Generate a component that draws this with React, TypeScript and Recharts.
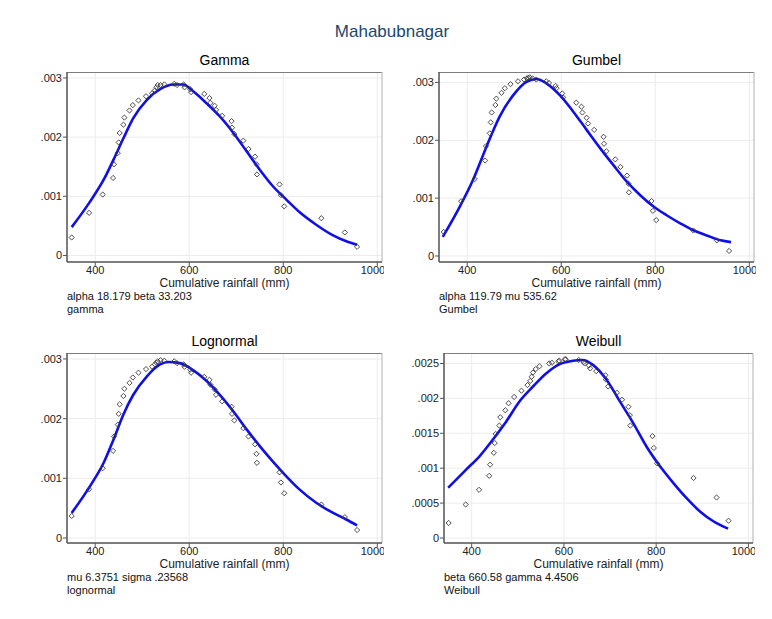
import React from "react";
import {
  ComposedChart,
  Scatter,
  Line,
  XAxis,
  YAxis,
  CartesianGrid,
  ReferenceLine,
} from "recharts";

// observed cumulative rainfall (mm), shared by all panels
const rainfall = [350, 387, 416, 438, 440, 448, 450, 452, 460, 462, 473, 480, 492, 508, 521, 527, 530, 533, 539, 547, 568, 574, 588, 590, 602, 604, 632, 643, 645, 654, 657, 670, 690, 691, 696, 715, 726, 740, 743, 744, 792, 795, 802, 881, 931, 957];

// empirical points per fit
const gammaPts = [0.000304, 0.00072, 0.00103, 0.00131, 0.00154, 0.00173, 0.00191, 0.00207, 0.00221, 0.00233, 0.00245, 0.00254, 0.00262, 0.00269, 0.00274, 0.00279, 0.00284, 0.00288, 0.00288, 0.00289, 0.0029, 0.00288, 0.00289, 0.00284, 0.00281, 0.00276, 0.00273, 0.00266, 0.00258, 0.00253, 0.00246, 0.00236, 0.00227, 0.00216, 0.00205, 0.00194, 0.0018, 0.00167, 0.00154, 0.00137, 0.0012, 0.00102, 0.00083, 0.00063, 0.00039, 0.000146];
const gumbelPts = [0.000415, 0.000946, 0.00133, 0.00165, 0.0019, 0.00212, 0.00231, 0.00248, 0.00261, 0.00272, 0.00282, 0.0029, 0.00297, 0.00302, 0.00305, 0.00307, 0.00308, 0.00309, 0.00307, 0.00305, 0.00302, 0.00299, 0.00294, 0.0029, 0.00281, 0.00274, 0.00265, 0.00258, 0.00248, 0.00239, 0.00229, 0.00218, 0.00206, 0.00194, 0.00181, 0.00167, 0.00154, 0.00139, 0.00125, 0.0011, 0.00095, 0.00078, 0.00062, 0.00044, 0.00027, 0.000087];
const lognormPts = [0.000369, 0.000816, 0.00117, 0.00146, 0.0017, 0.0019, 0.00208, 0.00224, 0.00238, 0.0025, 0.0026, 0.00269, 0.00277, 0.00283, 0.00287, 0.00291, 0.00294, 0.00296, 0.00298, 0.00297, 0.00296, 0.00293, 0.00291, 0.00287, 0.00282, 0.00277, 0.0027, 0.00265, 0.00257, 0.00249, 0.0024, 0.00229, 0.0022, 0.00208, 0.00197, 0.00184, 0.0017, 0.00157, 0.00141, 0.00126, 0.0011, 0.00093, 0.00075, 0.00056, 0.00035, 0.000134];
const weibullPts = [0.000215, 0.00048, 0.00069, 0.00089, 0.00105, 0.00122, 0.00136, 0.00149, 0.00161, 0.00173, 0.00183, 0.00193, 0.00202, 0.00211, 0.00219, 0.00225, 0.00231, 0.00237, 0.00242, 0.00246, 0.0025, 0.00251, 0.00253, 0.00254, 0.00256, 0.00256, 0.00255, 0.00252, 0.0025, 0.00247, 0.00243, 0.00239, 0.00233, 0.00227, 0.00217, 0.00208, 0.00198, 0.00188, 0.00176, 0.00161, 0.00146, 0.00129, 0.00107, 0.00086, 0.00058, 0.000248];

// fitted density curves
const gammaCurveX = [350, 389, 418, 439, 460, 481, 510, 538, 566, 587, 609, 637, 665, 694, 722, 750, 778, 807, 835, 870, 906, 934, 957];
const gammaCurveY = [0.000479, 0.00091, 0.00128, 0.00162, 0.00198, 0.00232, 0.00263, 0.00281, 0.00289, 0.00289, 0.00277, 0.00257, 0.00235, 0.00207, 0.00176, 0.00145, 0.00117, 0.00094, 0.00073, 0.00052, 0.00034, 0.00024, 0.00018];
const gumbelCurveX = [348, 384, 412, 441, 469, 498, 526, 548, 569, 597, 626, 654, 683, 711, 740, 768, 797, 825, 854, 882, 911, 939, 961];
const gumbelCurveY = [0.00033, 0.00085, 0.00131, 0.00189, 0.00241, 0.00278, 0.00301, 0.00306, 0.00298, 0.00278, 0.00249, 0.00218, 0.00186, 0.00157, 0.00128, 0.00105, 0.00085, 0.0007, 0.00056, 0.00044, 0.00035, 0.00027, 0.00024];
const lognormCurveX = [350, 389, 418, 439, 460, 481, 510, 538, 556, 580, 609, 637, 665, 694, 722, 750, 778, 807, 835, 870, 906, 934, 957];
const lognormCurveY = [0.00042, 0.00087, 0.00126, 0.00165, 0.00207, 0.0024, 0.00271, 0.00291, 0.00295, 0.00293, 0.00281, 0.00263, 0.0024, 0.00212, 0.00182, 0.00154, 0.00128, 0.00103, 0.00081, 0.00059, 0.00042, 0.00031, 0.00021];
const weibullCurveX = [349, 388, 417, 446, 475, 504, 533, 562, 591, 620, 641, 663, 692, 721, 750, 779, 808, 837, 866, 895, 924, 956];
const weibullCurveY = [0.00072, 0.00098, 0.00117, 0.00141, 0.00167, 0.00196, 0.00217, 0.00236, 0.00249, 0.00254, 0.00255, 0.00248, 0.00227, 0.00196, 0.00165, 0.00131, 0.00103, 0.00079, 0.00057, 0.00038, 0.00024, 0.000134];

const xTicks = [400, 600, 800, 1000];
const yTicks3 = [0, 0.001, 0.002, 0.003];
const yTicksW = [0, 0.0005, 0.001, 0.0015, 0.002, 0.0025];

const FONT = "'Liberation Sans', Arial, sans-serif";
const YW = 44;
const XH = 20;

const fmtY = (v: number) => (v === 0 ? "0" : String(v).replace(/^0/, ""));

const Diamond = (props: any) => {
  const { cx, cy } = props;
  if (cx == null || cy == null) return null;
  const r = 2.6;
  return (
    <path
      d={`M${cx},${cy - r}L${cx + r},${cy}L${cx},${cy + r}L${cx - r},${cy}Z`}
      fill="none"
      stroke="#3a3a3a"
      strokeWidth={0.9}
    />
  );
};

interface PanelProps {
  left: number;
  top: number;
  w: number;
  h: number;
  title: string;
  pts: number[];
  cx: number[];
  cy: number[];
  yDomain: [number, number];
  yTicks: number[];
  note1: string;
  note2: string;
}

function Panel({ left, top, w, h, title, pts, cx, cy, yDomain, yTicks, note1, note2 }: PanelProps) {
  const scatter = rainfall.map((x, i) => ({ x, y: pts[i] }));
  const curve = cx.map((x, i) => ({ x, y: cy[i] }));
  const xDomain: [number, number] = [340, 1010];
  const tick = { fill: "#222", fontSize: 11, fontFamily: FONT };
  return (
    <>
      <div
        style={{
          position: "absolute",
          left,
          width: w,
          top: top - 20,
          textAlign: "center",
          fontSize: 14,
          fontFamily: FONT,
          color: "#000",
        }}
      >
        {title}
      </div>
      <div style={{ position: "absolute", left: left - YW, top }}>
        <ComposedChart
          width={YW + w + 2}
          height={h + XH}
          margin={{ top: 0, right: 2, left: 0, bottom: 0 }}
        >
          <CartesianGrid stroke="#ececec" strokeWidth={1} />
          <XAxis
            type="number"
            dataKey="x"
            domain={xDomain}
            ticks={xTicks}
            allowDataOverflow
            height={XH}
            tick={tick}
            tickSize={4}
            tickMargin={0}
            tickLine={{ stroke: "#555" }}
            axisLine={{ stroke: "#555", strokeWidth: 1.5 }}
          />
          <YAxis
            type="number"
            dataKey="y"
            domain={yDomain}
            ticks={yTicks}
            allowDataOverflow
            width={YW}
            tick={tick}
            tickFormatter={fmtY}
            tickSize={4}
            tickMargin={1}
            tickLine={{ stroke: "#555" }}
            axisLine={{ stroke: "#555", strokeWidth: 1.5 }}
          />
          <ReferenceLine y={yDomain[1]} stroke="#555" strokeWidth={1.5} />
          <ReferenceLine x={xDomain[1]} stroke="#bbb" strokeWidth={1} />
          <Scatter data={scatter} shape={<Diamond />} isAnimationActive={false} />
          <Line
            data={curve}
            dataKey="y"
            type="monotone"
            stroke="#1010e6"
            strokeWidth={2.6}
            dot={false}
            isAnimationActive={false}
          />
        </ComposedChart>
      </div>
      <div
        style={{
          position: "absolute",
          left,
          width: w,
          top: h + top + 15,
          textAlign: "center",
          fontSize: 12,
          fontFamily: FONT,
          color: "#222",
          lineHeight: "13px",
        }}
      >
        Cumulative rainfall (mm)
      </div>
      <div
        style={{
          position: "absolute",
          left,
          top: h + top + 28,
          fontSize: 11,
          fontFamily: FONT,
          color: "#111",
          lineHeight: "13px",
        }}
      >
        <div>{note1}</div>
        <div>{note2}</div>
      </div>
    </>
  );
}

export default function App() {
  return (
    <div
      style={{
        position: "absolute",
        left: 0,
        top: 0,
        width: 772,
        height: 619,
        background: "#fff",
        overflow: "hidden",
      }}
    >
      <div
        style={{
          position: "absolute",
          left: 0,
          width: 772,
          top: 22,
          textAlign: "center",
          fontSize: 17,
          fontFamily: FONT,
          color: "#1a476f",
          paddingLeft: 12,
          boxSizing: "border-box",
        }}
      >
        Mahabubnagar
      </div>
      <Panel
        left={67}
        top={72}
        w={315}
        h={190}
        title="Gamma"
        pts={gammaPts}
        cx={gammaCurveX}
        cy={gammaCurveY}
        yDomain={[-0.00011, 0.0031]}
        yTicks={yTicks3}
        note1="alpha 18.179 beta 33.203"
        note2="gamma"
      />
      <Panel
        left={439}
        top={72}
        w={315}
        h={190}
        title="Gumbel"
        pts={gumbelPts}
        cx={gumbelCurveX}
        cy={gumbelCurveY}
        yDomain={[-0.000104, 0.00318]}
        yTicks={yTicks3}
        note1="alpha 119.79 mu 535.62"
        note2="Gumbel"
      />
      <Panel
        left={67}
        top={353}
        w={315}
        h={190}
        title="Lognormal"
        pts={lognormPts}
        cx={lognormCurveX}
        cy={lognormCurveY}
        yDomain={[-0.000084, 0.0031]}
        yTicks={yTicks3}
        note1="mu 6.3751 sigma .23568"
        note2="lognormal"
      />
      <Panel
        left={444}
        top={353}
        w={309}
        h={190}
        title="Weibull"
        pts={weibullPts}
        cx={weibullCurveX}
        cy={weibullCurveY}
        yDomain={[-0.0000716, 0.00265]}
        yTicks={yTicksW}
        note1="beta 660.58 gamma 4.4506"
        note2="Weibull"
      />
    </div>
  );
}
